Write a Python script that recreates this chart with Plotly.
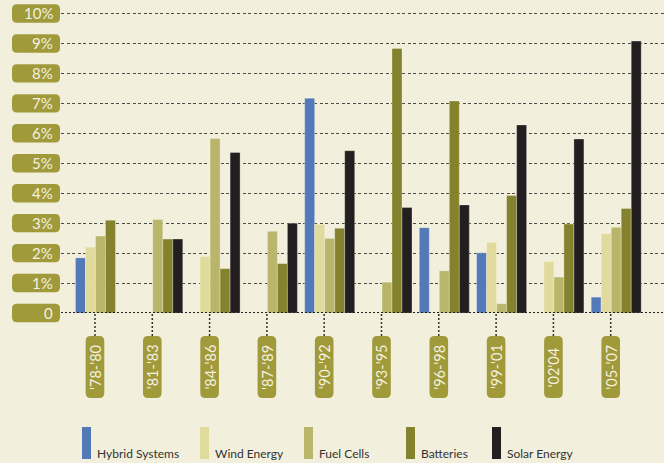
import plotly.graph_objects as go

categories = ["'78-'80", "'81-'83", "'84-'86", "'87-'89", "'90-'92",
              "'93-'95", "'96-'98", "'99-'01", "'02'04", "'05-'07"]
series_names = ["Hybrid Systems", "Wind Energy", "Fuel Cells", "Batteries", "Solar Energy"]
hybrid = [1.84, None, None, None, 7.17, None, 2.85, 2.01, None, 0.53]
wind = [2.20, None, 1.89, None, 2.96, None, None, 2.36, 1.72, 2.65]
fuel = [2.57, 3.12, 5.83, 2.73, 2.49, 1.03, 1.41, 0.31, 1.20, 2.86]
batteries = [3.10, 2.47, 1.48, 1.65, 2.83, 8.83, 7.08, 3.92, 2.97, 3.49]
solar = [None, 2.47, 5.36, 3.00, 5.42, 3.52, 3.61, 6.28, 5.81, 9.08]
y_ticks = [0, 1, 2, 3, 4, 5, 6, 7, 8, 9, 10]
y_tick_labels = ["0", "1%", "2%", "3%", "4%", "5%", "6%", "7%", "8%", "9%", "10%"]

colors = ["#5479b8", "#e0da9c", "#b9b56b", "#85822d", "#231f20"]
BG = "#f2efdd"
PILL = "#a09a3a"
PILL_TXT = "#f4f1e0"
FONT = "Lato"

W, H = 664, 463
ML, MR, MT, MB = 61, 0, 12, 150
PW, PH = W - ML - MR, H - MT - MB
XR = [-0.689, 9.834]
YR = [0, 10.05]

fig = go.Figure()
for name, vals, col in zip(series_names, [hybrid, wind, fuel, batteries, solar], colors):
    fig.add_trace(go.Bar(name=name, x=categories, y=vals, marker_color=col,
                         marker_line=dict(color="rgba(255,255,240,0.5)", width=0.6),
                         showlegend=False, hoverinfo="skip"))


def xpaper(xv):
    return (xv - XR[0]) / (XR[1] - XR[0])


def ypaper(yv):
    return (yv - YR[0]) / (YR[1] - YR[0])


def rrect(hw, hh, r):
    x0, x1, y0, y1 = -hw, hw, -hh, hh
    return (f"M{x0+r},{y0} L{x1-r},{y0} Q{x1},{y0} {x1},{y0+r} "
            f"L{x1},{y1-r} Q{x1},{y1} {x1-r},{y1} L{x0+r},{y1} "
            f"Q{x0},{y1} {x0},{y1-r} L{x0},{y0+r} Q{x0},{y0} {x0+r},{y0} Z")


shapes = []
annotations = []

# dotted zero line
shapes.append(dict(type="line", xref="paper", yref="y", x0=0, x1=1, y0=0, y1=0,
                   line=dict(color="#222", width=2.2, dash="2px,2px"), layer="above"))

# y-axis pill labels
for v, lab in zip(y_ticks, y_tick_labels):
    shapes.append(dict(type="path", xref="paper", yref="paper", xsizemode="pixel", ysizemode="pixel",
                       xanchor=-25 / PW, yanchor=ypaper(v), path=rrect(24, 9.2, 5),
                       fillcolor=PILL, line=dict(width=0), layer="above"))
    annotations.append(dict(x=0, y=ypaper(v), xref="paper", yref="paper", text=lab, showarrow=False,
                            xanchor="right", yanchor="middle", xshift=-6, yshift=0,
                            font=dict(family=FONT, size=15, color=PILL_TXT)))

# x-axis pill labels
off = -5.5
for i, cat in enumerate(categories):
    xa = xpaper(i) + off / PW
    shapes.append(dict(type="line", xref="paper", yref="paper", xsizemode="pixel", ysizemode="pixel",
                       xanchor=xa, yanchor=-11.5 / PH, x0=0, x1=0, y0=-11.5, y1=11.5,
                       line=dict(color="#333", width=1.5, dash="2px,2px")))
    shapes.append(dict(type="path", xref="paper", yref="paper", xsizemode="pixel", ysizemode="pixel",
                       xanchor=xa, yanchor=-54 / PH, path=rrect(9.3, 31, 5),
                       fillcolor=PILL, line=dict(width=0)))
    annotations.append(dict(x=xa, y=-54 / PH, xref="paper", yref="paper", text=cat, showarrow=False,
                            textangle=-90, xanchor="center", yanchor="middle",
                            font=dict(family=FONT, size=14.5, color=PILL_TXT)))

# legend
legend_x = [82, 200, 304, 406, 492]
for name, col, lx in zip(series_names, colors, legend_x):
    shapes.append(dict(type="rect", xref="paper", yref="paper", xsizemode="pixel", ysizemode="pixel",
                       xanchor=(lx + 4.5 - ML) / PW, yanchor=-(443 - MT - PH) / PH,
                       x0=-4.5, x1=4.5, y0=-16, y1=16,
                       fillcolor=col, line=dict(width=0)))
    annotations.append(dict(x=(lx + 13 - ML) / PW, y=-(453 - MT - PH) / PH, xref="paper", yref="paper",
                            text=name, showarrow=False, xanchor="left", yanchor="middle",
                            font=dict(family=FONT, size=12, color="#333333")))

fig.update_layout(
    width=W, height=H,
    margin=dict(l=ML, r=MR, t=MT, b=MB),
    paper_bgcolor=BG, plot_bgcolor=BG,
    barmode="group", bargap=0.127, bargroupgap=0,
    shapes=shapes, annotations=annotations,
    font=dict(family=FONT),
    hovermode=False,
    xaxis=dict(type="category", range=XR, showticklabels=False,
               showgrid=False, zeroline=False, ticks=""),
    yaxis=dict(range=YR, tickvals=y_ticks, showticklabels=False,
               showgrid=True, gridcolor="#4a4a4a", gridwidth=1.3, griddash="3px,2.5px",
               zeroline=False, ticks=""),
)
fig.write_html("out.html", config={"displayModeBar": False},
               post_script="document.body.style.margin='0';")
